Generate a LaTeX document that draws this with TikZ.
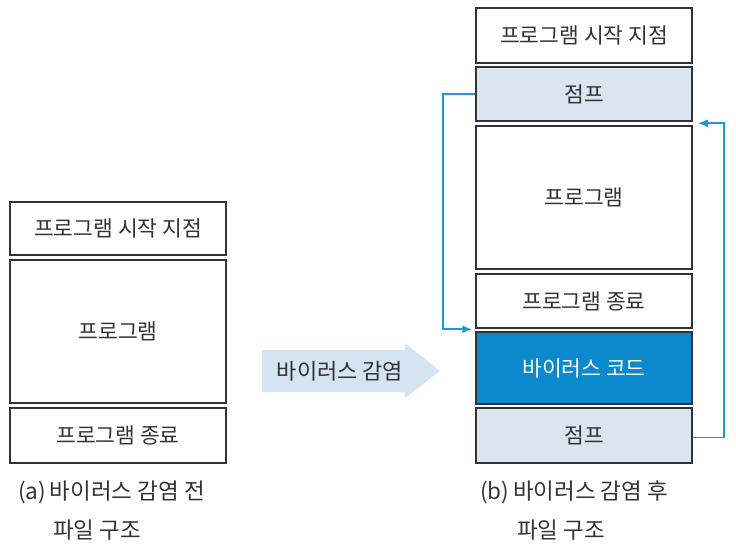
\documentclass[tikz,border=0pt]{standalone}
\usepackage{fontspec}
\setmainfont{Noto Sans CJK KR}
\usetikzlibrary{arrows.meta,calc}
\definecolor{boxline}{HTML}{333333}
\definecolor{txt}{HTML}{333333}
\definecolor{jumpfill}{HTML}{DAE5F2}
\definecolor{virusfill}{HTML}{0A8ACD}
\definecolor{link}{HTML}{1B9AD6}
\definecolor{bigarrow}{HTML}{D5E4F3}
\tikzset{
  blk/.style={draw=boxline, line width=1.5pt, rectangle, minimum width=216pt, inner sep=0pt, text=txt, font=\fontsize{21.5}{24}\selectfont},
  jumpblk/.style={blk, fill=jumpfill},
  virusblk/.style={blk, fill=virusfill, text=white},
  linkline/.style={draw=link, line width=1.6pt, -{Latex[length=10pt,width=8pt]}},
  captext/.style={text=txt, font=\fontsize{22.5}{26}\selectfont, inner sep=0pt}
}
\begin{document}
\begin{tikzpicture}[x=1pt,y=-1pt]
\useasboundingbox (0,0) rectangle (736,547);
% left column
\node[blk, minimum height=53pt] (lstart) at (118,228.5) {프로그램 시작 지점};
\node[blk, minimum height=143pt] (lprog) at (118,331.5) {프로그램};
\node[blk, minimum height=55pt] (lend) at (118,435.5) {프로그램 종료};
% right column
\node[blk, minimum height=55pt] (rstart) at (584,35.5) {프로그램 시작 지점};
\node[jumpblk, minimum height=54pt] (rjump1) at (584,94) {점프};
\node[blk, minimum height=143pt] (rprog) at (584,197.5) {프로그램};
\node[blk, minimum height=54pt] (rend) at (584,301) {프로그램 종료};
\node[virusblk, minimum height=72pt] (rvirus) at (584,368) {바이러스 코드};
\node[jumpblk, minimum height=55pt] (rjump2) at (584,435.5) {점프};
% connectors
\coordinate (t1) at ($(rvirus.north west)+(-3,-2)$);
\coordinate (t2) at ($(rprog.north east)+(5,-2)$);
\draw[linkline] (rjump1.west) -- ++(-32,0) |- (t1);
\draw[linkline] ([yshift=-2pt]rjump2.east) -- ++(31,0) |- (t2);
% big arrow
\fill[bigarrow] (262,350) -- (405,350) -- (405,343) -- (440,371) -- (405,398) -- (405,392) -- (262,392) -- cycle;
\node[text=txt, font=\fontsize{22}{24}\selectfont, inner sep=0pt] (infect) at (340,371) {바이러스 감염};
% captions
\node[captext, anchor=west] (capa1) at (18,492) {(a)\,바이러스 감염 전};
\node[captext, anchor=west] (capa2) at (53,530) {파일 구조};
\node[captext, anchor=west] (capb1) at (480,492) {(b)\,바이러스 감염 후};
\node[captext, anchor=west] (capb2) at (517,530) {파일 구조};
\end{tikzpicture}
\end{document}
